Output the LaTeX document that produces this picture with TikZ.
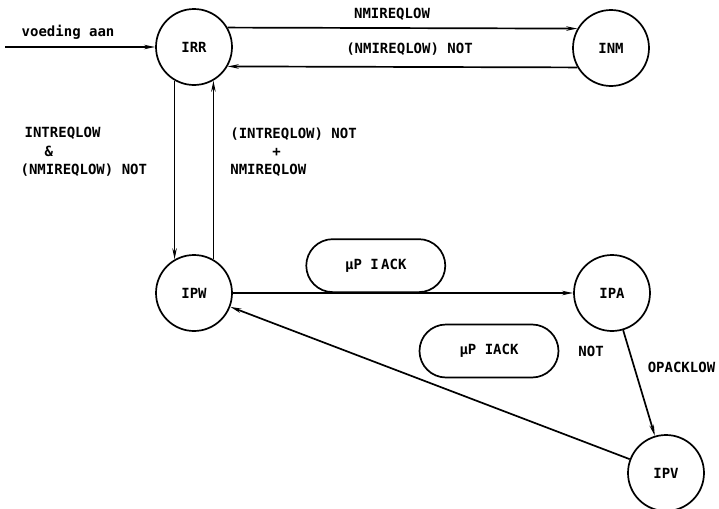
\documentclass[tikz,border=0pt]{standalone}
\usepackage{fontspec}
\setmainfont{DejaVu Sans Mono}
\usetikzlibrary{arrows.meta, positioning, shapes.misc}

\begin{document}
\begin{tikzpicture}[x=0.5pt, y=-0.5pt, >={Stealth[length=5.5pt, width=2.2pt]},
    font=\bfseries\fontsize{7}{9.2}\selectfont,
    state/.style={draw, circle, line width=0.85pt, minimum size=38pt, inner sep=0pt},
    ackbox/.style={draw, rounded rectangle, line width=0.85pt, minimum width=69.5pt, minimum height=26.5pt, inner sep=0pt},
    trans/.style={->, line width=0.85pt}]
    \useasboundingbox (0,0) rectangle (719,509);

    % States
    \node[state] (irr) at (194,47) {IRR};
    \node[state] (inm) at (611,48) {INM};
    \node[state] (ipw) at (194,293) {IPW};
    \node[state] (ipa) at (612,293) {IPA};
    \node[state] (ipv) at (666,473) {IPV};

    % Power on
    \coordinate (start) at (5,47);
    \draw[trans] (start) -- node[above, pos=0.42] {voeding aan} (irr.west);

    % IRR <-> INM
    \draw[trans] (irr.30) -- node[above, pos=0.47] {NMIREQLOW} (inm.150);
    \draw[trans] (inm.210) -- node[above=2pt, pos=0.48] {(NMIREQLOW) NOT} (irr.-30);

    % IRR <-> IPW
    \draw[trans] (irr.-120) -- node[left=10pt, pos=0.4, align=left] {\hspace*{2pt}INTREQLOW\\\hspace*{12pt}\&\\(NMIREQLOW) NOT} (ipw.120);
    \draw[trans] (ipw.60) -- node[right=4.7pt, pos=0.6, align=left] {(INTREQLOW) NOT\\\hspace*{21pt}+\\NMIREQLOW} (irr.-60);

    % IPW -> IPA -> IPV -> IPW
    \draw[trans] (ipw.east) -- node[ackbox, above=0pt, pos=0.42] (ack) {µP I\,ACK} (ipa.west);
    \draw[trans] (ipa) -- node[right=3pt, pos=0.35] {OPACKLOW} (ipv);
    \draw[trans] (ipv) -- (ipw);

    % Return condition
    \node[ackbox] (nack) at (489,351) {µP IACK};
    \node[right=6pt of nack] (notlbl) {NOT};
\end{tikzpicture}
\end{document}
